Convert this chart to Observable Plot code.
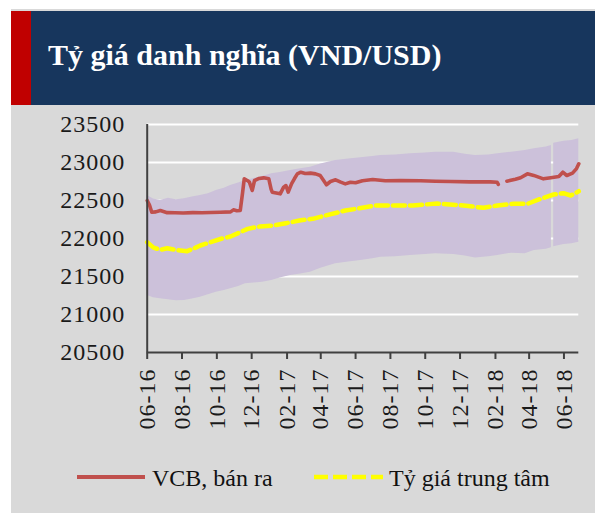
<!DOCTYPE html>
<html>
<head>
<meta charset="utf-8">
<script src="https://cdn.jsdelivr.net/npm/d3@7"></script>
<script src="https://cdn.jsdelivr.net/npm/@observablehq/plot@0.6"></script>
<style>
  html, body { margin: 0; padding: 0; background: #ffffff; }
  #page { position: relative; width: 595px; height: 513px; overflow: hidden; background: #ffffff; }
  #panel { position: absolute; left: 11px; top: 9px; width: 584px; height: 504px; background: #d9d9d9; }
  #redstrip { position: absolute; left: 11px; top: 11px; width: 20px; height: 94px; background: #c00000; }
  #header { position: absolute; left: 31px; top: 11px; width: 564px; height: 94px; background: #17365d; }
  #title { position: absolute; left: 48px; top: 40px; font-family: "Liberation Serif", serif; font-weight: bold;
           font-size: 30px; line-height: 30px; color: #ffffff; white-space: nowrap; }
  #chart { position: absolute; left: 0; top: 105px; }
  .leg { position: absolute; font-family: "Liberation Serif", serif; font-size: 24px; line-height: 24px; color: #111; white-space: nowrap; }
  .sw { position: absolute; }
</style>
</head>
<body>
<div id="page">
  <div id="panel"></div>
  <div id="redstrip"></div>
  <div id="header"></div>
  <div id="title">Tỷ giá danh nghĩa (VND/USD)</div>
  <div id="chart"></div>
  <svg class="sw" style="left:77px;top:472px" width="68" height="10"><line x1="0" x2="68" y1="5" y2="5" stroke="#c0504d" stroke-width="4.2"/></svg>
  <div class="leg" style="left:152px;top:466px">VCB, bán ra</div>
  <svg class="sw" style="left:314px;top:472px" width="70" height="10"><line x1="0" x2="69" y1="5" y2="5" stroke="#ffff00" stroke-width="4.5" stroke-dasharray="14,5"/></svg>
  <div class="leg" style="left:389px;top:466px">Tỷ giá trung tâm</div>
</div>
<script>
// ---- Data ----
const xTickLabels = ["06-16","08-16","10-16","12-16","02-17","04-17","06-17","08-17","10-17","12-17","02-18","04-18","06-18"];
const yTicks = [20500, 21000, 21500, 22000, 22500, 23000, 23500];

// VCB selling rate (null = gap in the series)
const vcbDates = ["2016-06-01","2016-06-05","2016-06-09","2016-06-16","2016-06-24","2016-07-06","2016-07-20","2016-08-03","2016-08-20","2016-09-05","2016-09-20","2016-10-07","2016-10-25","2016-10-30","2016-11-05","2016-11-11","2016-11-15","2016-11-18","2016-11-24","2016-11-27","2016-12-02","2016-12-06","2016-12-14","2016-12-22","2016-12-31","2017-01-04","2017-01-06","2017-01-20","2017-01-26","2017-01-30","2017-02-03","2017-02-09","2017-02-14","2017-02-19","2017-02-25","2017-03-05","2017-03-14","2017-03-23","2017-03-31","2017-04-06","2017-04-11","2017-04-18","2017-04-27","2017-05-06","2017-05-14","2017-05-23","2017-06-01","2017-06-13","2017-07-01","2017-07-23","2017-08-19","2017-09-23","2017-10-19","2017-11-14","2017-12-19","2018-01-23","2018-02-04","2018-02-06","2018-02-12","2018-02-21","2018-03-08","2018-03-17","2018-03-29","2018-04-09","2018-04-26","2018-05-09","2018-05-23","2018-05-30","2018-06-06","2018-06-16","2018-06-23","2018-06-27"];
const vcbValues = [22500,22440,22346,22350,22368,22340,22338,22336,22340,22338,22342,22345,22350,22377,22365,22368,22600,22785,22760,22741,22632,22763,22790,22798,22785,22650,22610,22588,22676,22697,22610,22723,22789,22851,22872,22855,22860,22850,22829,22763,22707,22750,22772,22741,22719,22741,22733,22760,22776,22760,22763,22760,22754,22750,22745,22745,22740,22712,null,22754,22780,22800,22851,22830,22785,22800,22816,22872,22829,22860,22920,22983];

// Central rate
const centralDates = ["2016-06-01","2016-06-12","2016-06-24","2016-07-06","2016-07-20","2016-08-10","2016-08-25","2016-09-02","2016-09-20","2016-10-10","2016-10-25","2016-11-11","2016-11-24","2016-12-15","2017-01-08","2017-01-30","2017-02-25","2017-03-18","2017-04-09","2017-05-14","2017-06-13","2017-07-06","2017-08-10","2017-09-09","2017-10-22","2017-12-07","2018-01-11","2018-02-05","2018-03-05","2018-03-29","2018-04-21","2018-05-14","2018-05-31","2018-06-13","2018-06-27"];
const centralValues = [21951,21880,21851,21872,21850,21833,21880,21908,21951,22000,22026,22083,22127,22158,22171,22201,22240,22259,22302,22368,22404,22434,22434,22434,22460,22434,22404,22434,22456,22456,22522,22579,22596,22566,22622];

// Trading band (upper / lower edges)
const bandDates = ["2016-06-01","2016-06-12","2016-06-24","2016-07-08","2016-07-22","2016-08-05","2016-08-19","2016-09-02","2016-09-16","2016-09-30","2016-10-14","2016-10-25","2016-11-08","2016-11-20","2016-12-05","2016-12-20","2017-01-05","2017-01-20","2017-02-07","2017-02-22","2017-03-14","2017-04-01","2017-04-27","2017-05-20","2017-06-10","2017-07-01","2017-07-15","2017-08-10","2017-09-05","2017-10-01","2017-10-19","2017-11-20","2017-12-10","2017-12-28","2018-01-20","2018-02-05","2018-03-01","2018-03-25","2018-04-10","2018-05-01","2018-05-10","2018-05-11","2018-05-14","2018-06-01","2018-06-15","2018-06-27"];
const bandUpper = [22566,22520,22500,22530,22510,22522,22545,22566,22590,22632,22660,22697,22730,22763,22790,22816,22851,22870,22895,22915,22939,22980,23026,23045,23061,23080,23092,23100,23114,23125,23136,23136,23110,23092,23100,23114,23136,23158,23180,23205,23224,null,23254,23281,23290,23312];
const bandLower = [21250,21220,21206,21195,21180,21184,21205,21228,21260,21294,21315,21338,21370,21404,21415,21425,21447,21480,21513,21530,21556,21610,21667,21690,21710,21735,21754,21760,21776,21790,21798,21790,21770,21745,21760,21776,21807,21798,21842,21860,21877,null,21890,21921,21930,21951];

// ---- Build tables ----
const parse = s => new Date(s + "T00:00:00Z");
const vcb = vcbDates.map((d, i) => ({date: parse(d), value: vcbValues[i]}));
const central = centralDates.map((d, i) => ({date: parse(d), value: centralValues[i]}));
const band = bandDates.map((d, i) => ({date: parse(d), upper: bandUpper[i], lower: bandLower[i]}));
const xTicks = xTickLabels.map(l => { const [m, y] = l.split("-").map(Number); return new Date(Date.UTC(2000 + y, m - 1, 1)); });
const labelOf = new Map(xTicks.map((t, i) => [+t, xTickLabels[i]]));

const chart = Plot.plot({
  width: 595,
  height: 335,
  marginLeft: 146.7,
  marginRight: 16.7,
  marginTop: 19,
  marginBottom: 88,
  style: {background: "transparent", fontFamily: "'Liberation Serif', serif", fontSize: "24px", color: "#1a1a1a", letterSpacing: "1px"},
  x: {type: "utc", domain: [parse("2016-06-01"), parse("2018-06-27")]},
  y: {domain: [20500, 23500]},
  marks: [
    Plot.ruleY(yTicks.slice(1), {stroke: "#ffffff", strokeWidth: 2}),
    Plot.areaY(band, {x: "date", y1: "lower", y2: "upper", fill: "#ccc1da"}),
    Plot.line(central, {x: "date", y: "value", stroke: "#ffff00", strokeWidth: 4.5, strokeDasharray: "12,5"}),
    Plot.line(vcb, {x: "date", y: "value", stroke: "#c0504d", strokeWidth: 3.6}),
    Plot.axisY({ticks: yTicks, tickFormat: d => String(d), tickSize: 0, tickPadding: 22, label: null, fill: "#1a1a1a"}),
    Plot.axisX({ticks: xTicks, tickFormat: d => labelOf.get(+d), tickRotate: -90, tickSize: 7, tickPadding: 9,
                label: null, stroke: "#404040", strokeWidth: 2, fill: "#1a1a1a"}),
    Plot.ruleY([20500], {stroke: "#404040", strokeWidth: 2}),
    Plot.ruleX([parse("2016-06-01")], {y1: 20500, y2: 23500, stroke: "#404040", strokeWidth: 2})
  ]
});
document.getElementById("chart").appendChild(chart);
</script>
</body>
</html>
